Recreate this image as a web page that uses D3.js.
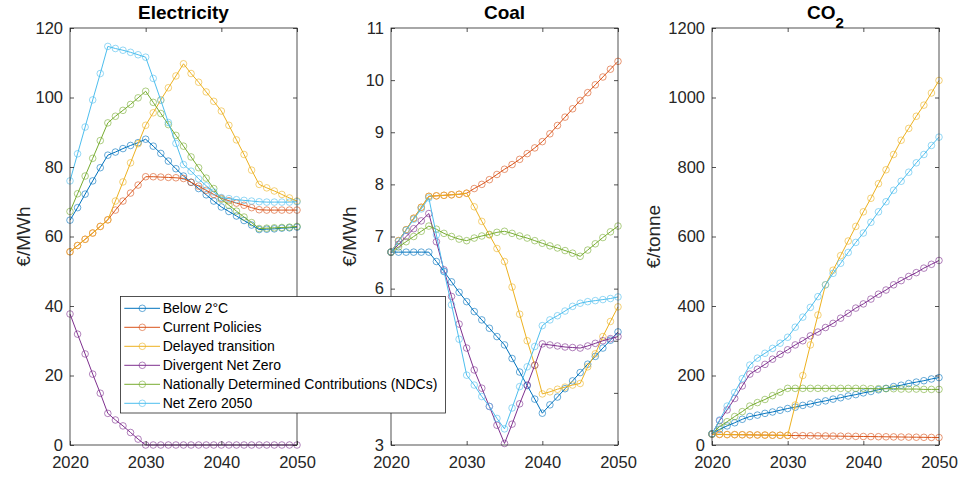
<!DOCTYPE html>
<html>
<head>
<meta charset="utf-8">
<script src="https://cdn.jsdelivr.net/npm/d3@7"></script>
<style>
  html, body { margin: 0; padding: 0; background: #fff; }
  svg { display: block; font-family: "Liberation Sans", Arial, Helvetica, sans-serif; }
</style>
</head>
<body>
<svg id="chart" width="960" height="477"></svg>
<script>
// ---------- DATA ----------
const years = [2020,2021,2022,2023,2024,2025,2026,2027,2028,2029,2030,2031,2032,2033,2034,2035,2036,2037,2038,2039,2040,2041,2042,2043,2044,2045,2046,2047,2048,2049,2050];
const scenarioNames = ["Below 2°C", "Current Policies", "Delayed transition", "Divergent Net Zero", "Nationally Determined Contributions (NDCs)", "Net Zero 2050"];
const scenarioColors = ["#0072BD", "#D95319", "#EDB120", "#7E2F8E", "#77AC30", "#4DBEEE"];

// Electricity (€/MWh)
const elecBelow2 = [64.7,68.3,72.2,76.0,79.8,83.4,84.3,85.3,86.2,87.0,88.0,86.0,83.9,81.7,79.5,77.4,75.6,73.8,72.0,70.2,68.5,67.2,65.9,64.6,63.3,62.0,62.1,62.2,62.4,62.5,62.7];
const elecCurrent = [55.6,57.4,59.2,61.0,62.9,64.8,67.6,70.2,72.5,74.8,77.2,77.2,77.1,77.0,76.9,76.7,75.6,74.5,73.3,72.1,71.0,70.3,69.6,69.0,68.3,67.7,67.6,67.6,67.6,67.6,67.6];
const elecDelayed = [55.6,57.4,59.2,61.0,62.9,64.8,70.2,75.7,81.2,86.7,92.0,95.6,99.3,102.8,106.2,109.7,106.9,104.4,101.6,98.9,96.1,92.0,87.8,83.6,79.1,75.0,74.0,73.1,72.1,71.1,70.2];
const elecDivergent = [37.7,31.9,26.2,20.4,14.9,9.1,7.2,5.5,3.6,1.7,0,0,0,0,0,0,0,0,0,0,0,0,0,0,0,0,0,0,0,0,0];
const elecNDC = [67.2,72.3,77.4,82.5,87.6,92.7,94.6,96.3,98.0,99.9,101.8,98.6,95.4,92.2,89.1,86.0,82.9,79.8,76.8,73.8,70.7,69.0,67.3,65.6,64.0,62.3,62.4,62.5,62.6,62.7,62.9];
const elecNetZero = [76.0,83.8,91.5,99.3,106.9,114.7,114.1,113.6,113.0,112.3,111.6,105.5,99.2,92.8,86.8,80.7,78.8,76.6,74.6,72.8,71.2,70.9,70.6,70.4,70.2,70.0,69.9,69.9,69.9,69.9,70.0];

// Coal (€/MWh)
const coalBelow2 = [6.70,6.70,6.70,6.70,6.70,6.70,6.52,6.33,6.13,5.93,5.75,5.56,5.40,5.24,5.08,4.92,4.66,4.40,4.14,3.88,3.61,3.77,3.92,4.08,4.23,4.39,4.55,4.70,4.86,5.01,5.17];
const coalCurrent = [6.70,6.92,7.13,7.35,7.56,7.77,7.78,7.79,7.80,7.81,7.83,7.92,8.00,8.09,8.19,8.29,8.38,8.48,8.59,8.70,8.82,8.97,9.13,9.29,9.45,9.61,9.76,9.91,10.06,10.21,10.36];
const coalDelayed = [6.70,6.92,7.13,7.35,7.56,7.77,7.78,7.79,7.80,7.81,7.83,7.57,7.29,7.03,6.77,6.52,6.03,5.51,5.00,4.53,3.98,4.02,4.07,4.11,4.15,4.18,4.50,4.75,5.08,5.37,5.65];
const coalDivergent = [6.70,6.85,7.00,7.15,7.30,7.44,6.90,6.36,5.85,5.32,4.86,4.44,4.09,3.74,3.38,3.03,3.40,3.79,4.15,4.53,4.94,4.92,4.90,4.88,4.87,4.86,4.90,4.95,5.00,5.04,5.08];
const coalNDC = [6.70,6.80,6.90,7.00,7.10,7.20,7.14,7.06,7.00,6.95,6.92,6.97,7.01,7.04,7.08,7.10,7.06,7.01,6.97,6.92,6.87,6.82,6.78,6.73,6.68,6.62,6.74,6.86,6.98,7.09,7.20];
const coalNetZero = [6.70,6.91,7.12,7.33,7.53,7.74,7.03,6.33,5.69,5.03,4.34,4.15,3.93,3.74,3.51,3.31,3.71,4.12,4.50,4.89,5.29,5.40,5.48,5.57,5.66,5.72,5.75,5.77,5.79,5.81,5.84];

// CO2 (€/tonne)
const co2Below2 = [32,45,55,64,74,82,86,91,95,100,105,109,114,118,123,127,132,136,141,145,150,154,159,163,168,172,177,181,185,190,194];
const co2Current = [31,30.5,30,29.8,29.5,29.2,28.8,28.5,28.2,27.9,27.5,27.2,26.9,26.6,26.3,26.0,25.7,25.4,25.1,24.8,24.5,24.2,23.9,23.6,23.3,23.0,22.7,22.4,22.1,21.8,21.5];
const co2Delayed = [31,30.5,30,29.8,29.5,29.2,28.8,28.5,28.2,27.9,27.5,115,200,288,374,461,503,545,587,629,671,710,752,792,836,877,911,946,978,1013,1049];
const co2Divergent = [32,70,101,134,170,204,218,232,247,261,274,288,300,314,325,338,350,365,379,394,406,420,434,446,461,473,485,496,509,520,531];
const co2NDC = [32,53,67,82,96,112,122,131,142,152,163,163,163,163,163,163,163,163,163,163,163,162,162,162,162,161,161,161,160,160,160];
const co2NetZero = [32,72,112,151,191,230,250,264,278,293,310,339,368,396,427,461,494,523,554,583,610,641,671,700,733,759,785,812,836,862,886];

const xTicks = [2020, 2030, 2040, 2050];
const elecTicks = [0, 20, 40, 60, 80, 100, 120];
const coalTicks = [3, 4, 5, 6, 7, 8, 9, 10, 11];
const co2Ticks = [0, 200, 400, 600, 800, 1000, 1200];

// ---------- LAYOUT ----------
const svg = d3.select("#chart");
const axisColor = "#262626";
const plotTop = 28, plotBottom = 445, plotW = 227;

const panels = [
  { title: "Electricity", left: 70, domain: [0, 120], ticks: elecTicks, ylabel: "€/MWh", ylabelX: 30,
    series: [elecBelow2, elecCurrent, elecDelayed, elecDivergent, elecNDC, elecNetZero] },
  { title: "Coal", left: 391, domain: [3, 11], ticks: coalTicks, ylabel: "€/MWh", ylabelX: 356,
    series: [coalBelow2, coalCurrent, coalDelayed, coalDivergent, coalNDC, coalNetZero] },
  { title: "CO2", left: 712, domain: [0, 1200], ticks: co2Ticks, ylabel: "€/tonne", ylabelX: 660,
    series: [co2Below2, co2Current, co2Delayed, co2Divergent, co2NDC, co2NetZero] }
];

panels.forEach(p => {
  const x = d3.scaleLinear().domain([2020, 2050]).range([p.left, p.left + plotW]);
  const y = d3.scaleLinear().domain(p.domain).range([plotBottom, plotTop]);
  const g = svg.append("g");

  // series
  p.series.forEach((vals, i) => {
    const pts = years.map((yr, k) => [yr, vals[k]]);
    g.append("path")
      .datum(pts)
      .attr("fill", "none")
      .attr("stroke", scenarioColors[i])
      .attr("stroke-width", 1)
      .attr("d", d3.line().x(d => x(d[0])).y(d => y(d[1])));
    g.selectAll(null).data(pts).enter().append("circle")
      .attr("cx", d => x(d[0])).attr("cy", d => y(d[1]))
      .attr("r", 3.3)
      .attr("fill", "none")
      .attr("stroke", scenarioColors[i])
      .attr("stroke-opacity", 0.75)
      .attr("stroke-width", 0.8);
  });

  // axes
  const styleAxis = sel => {
    sel.select(".domain").remove();
    sel.selectAll(".tick line").attr("stroke", axisColor).attr("stroke-width", 0.8);
    sel.selectAll(".tick text").attr("fill", axisColor).style("font-size", "16.5px")
      .style("font-family", "'Liberation Sans', Arial, Helvetica, sans-serif");
  };
  g.append("g").attr("transform", `translate(${p.left},0)`)
    .call(d3.axisLeft(y).tickValues(p.ticks).tickFormat(d3.format("d")).tickSizeInner(-4).tickSizeOuter(0).tickPadding(7))
    .call(styleAxis);
  g.append("g").attr("transform", `translate(${p.left + plotW},0)`)
    .call(d3.axisRight(y).tickValues(p.ticks).tickFormat("").tickSizeInner(-4).tickSizeOuter(0))
    .call(styleAxis);
  g.append("g").attr("transform", `translate(0,${plotBottom})`)
    .call(d3.axisBottom(x).tickValues(xTicks).tickFormat(d3.format("d")).tickSizeInner(-4).tickSizeOuter(0).tickPadding(11.5))
    .call(styleAxis);
  g.append("g").attr("transform", `translate(0,${plotTop})`)
    .call(d3.axisTop(x).tickValues(xTicks).tickFormat("").tickSizeInner(-4).tickSizeOuter(0))
    .call(styleAxis);

  // box
  g.append("rect")
    .attr("x", p.left).attr("y", plotTop).attr("width", plotW).attr("height", plotBottom - plotTop)
    .attr("fill", "none").attr("stroke", axisColor).attr("stroke-width", 0.8);

  // title
  const cx = p.left + plotW / 2;
  if (p.title === "CO2") {
    const t = g.append("text").attr("x", cx).attr("y", 19).attr("text-anchor", "middle")
      .style("font-size", "19px").style("font-weight", "bold").attr("fill", "#000");
    t.append("tspan").text("CO");
    t.append("tspan").attr("dy", 9).style("font-size", "15px").text("2");
  } else {
    g.append("text").attr("x", cx).attr("y", 19).attr("text-anchor", "middle")
      .style("font-size", "19px").style("font-weight", "bold").attr("fill", "#000")
      .text(p.title);
  }

  // y label
  g.append("text")
    .attr("transform", `translate(${p.ylabelX},${(plotTop + plotBottom) / 2}) rotate(-90)`)
    .attr("text-anchor", "middle")
    .style("font-size", "19px")
    .attr("fill", axisColor)
    .text(p.ylabel);
});

// ---------- LEGEND ----------
const lg = svg.append("g");
lg.append("rect")
  .attr("x", 120.5).attr("y", 296.5).attr("width", 325).attr("height", 116.5)
  .attr("fill", "#fff").attr("stroke", axisColor).attr("stroke-width", 0.8);
scenarioNames.forEach((name, i) => {
  const yy = 308.3 + i * 19;
  lg.append("line").attr("x1", 124.3).attr("x2", 160).attr("y1", yy).attr("y2", yy)
    .attr("stroke", scenarioColors[i]).attr("stroke-width", 1);
  lg.append("circle").attr("cx", 142.3).attr("cy", yy).attr("r", 3.3)
    .attr("fill", "none").attr("stroke", scenarioColors[i]).attr("stroke-opacity", 0.75).attr("stroke-width", 0.8);
  lg.append("text").attr("x", 162.7).attr("y", yy).attr("dy", "0.36em")
    .style("font-size", "14px").attr("fill", "#000").text(name);
});
</script>
</body>
</html>
